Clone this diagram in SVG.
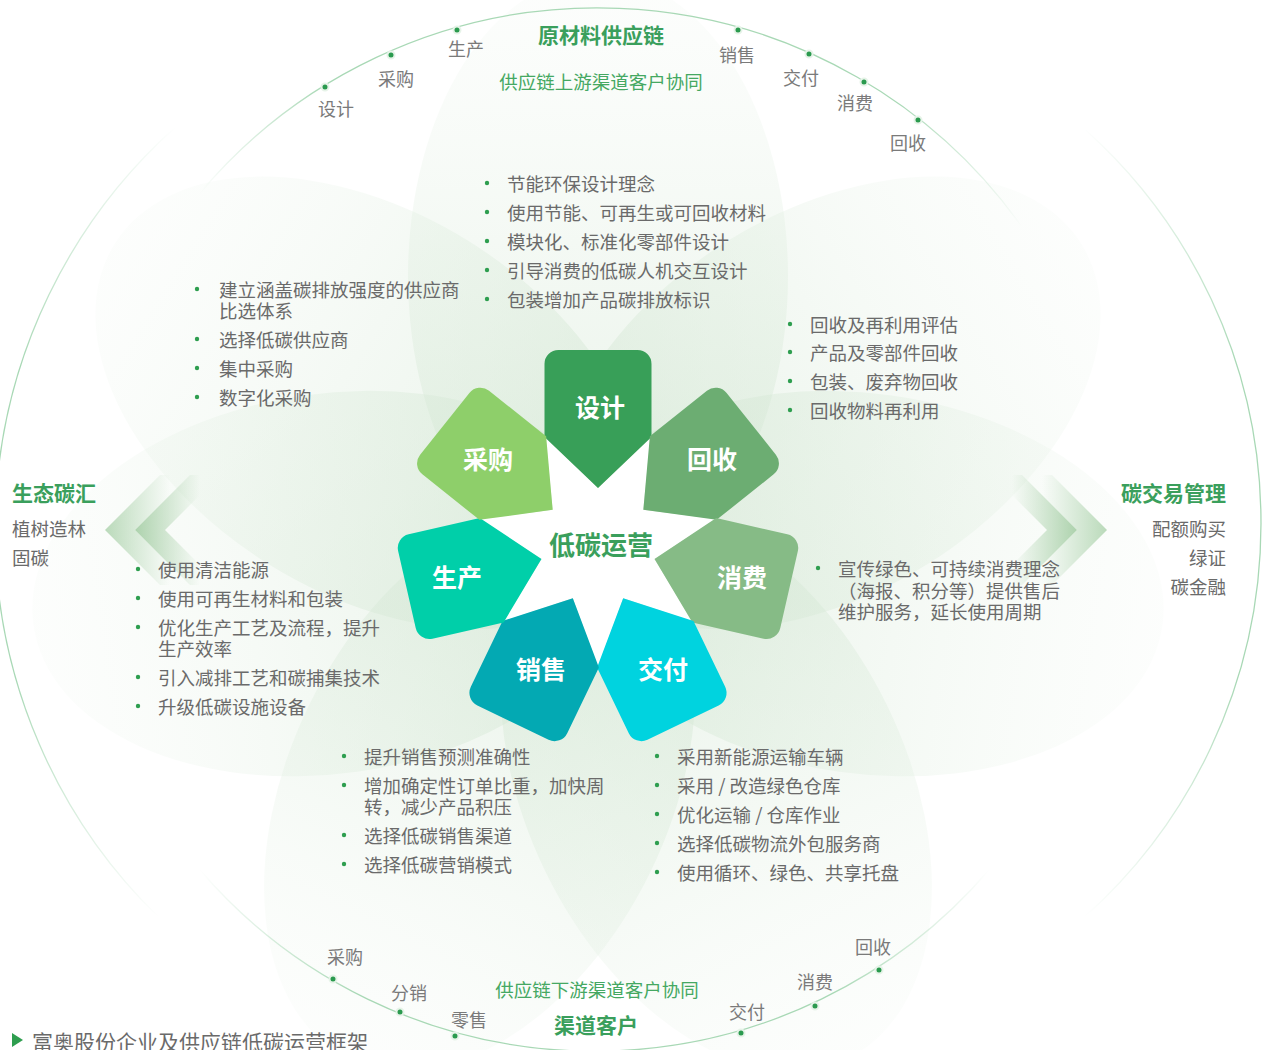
<svg xmlns="http://www.w3.org/2000/svg" width="1262" height="1050" viewBox="0 0 1262 1050">
<defs>
<style>
text{font-family:"Noto Sans CJK SC","Noto Sans",sans-serif;dominant-baseline:central}
.li{font-size:18.5px;fill:#6a6a6a}
.al{font-size:18px;fill:#7a7a7a;text-anchor:middle}
.ttl{font-size:21px;font-weight:bold;fill:#3a9f5c}
.sub{font-size:18.5px;fill:#45a862;text-anchor:middle}
.side{font-size:18.5px;fill:#6a6a6a}
.pl{font-size:25px;font-weight:bold;fill:#ffffff;text-anchor:middle}
.bd{fill:#2e9e4f}
.dot{fill:#2a9a4e;stroke:#e6f3e8;stroke-width:2}
.bg{fill:url(#bgp)}
</style>
<linearGradient id="bgp" x1="0" y1="1" x2="0" y2="0">
<stop offset="0" stop-color="#cfe4cf" stop-opacity="0.55"/>
<stop offset="0.55" stop-color="#dcecdc" stop-opacity="0.32"/>
<stop offset="1" stop-color="#eef6ee" stop-opacity="0.15"/>
</linearGradient>
<linearGradient id="arcTop" gradientUnits="userSpaceOnUse" x1="200" y1="0" x2="1022" y2="0">
<stop offset="0" stop-color="#a8d8b5" stop-opacity="0"/>
<stop offset="0.15" stop-color="#a8d8b5" stop-opacity="1"/>
<stop offset="0.85" stop-color="#a8d8b5" stop-opacity="1"/>
<stop offset="1" stop-color="#a8d8b5" stop-opacity="0"/>
</linearGradient>
<linearGradient id="arcBot" gradientUnits="userSpaceOnUse" x1="200" y1="0" x2="989" y2="0">
<stop offset="0" stop-color="#a8d8b5" stop-opacity="0"/>
<stop offset="0.2" stop-color="#a8d8b5" stop-opacity="1"/>
<stop offset="0.8" stop-color="#a8d8b5" stop-opacity="1"/>
<stop offset="1" stop-color="#a8d8b5" stop-opacity="0"/>
</linearGradient>
<linearGradient id="arcV" gradientUnits="userSpaceOnUse" x1="0" y1="127" x2="0" y2="917">
<stop offset="0" stop-color="#a8d8b5" stop-opacity="0"/>
<stop offset="0.3" stop-color="#a8d8b5" stop-opacity="1"/>
<stop offset="0.7" stop-color="#a8d8b5" stop-opacity="1"/>
<stop offset="1" stop-color="#a8d8b5" stop-opacity="0"/>
</linearGradient>
<linearGradient id="chL1" gradientUnits="userSpaceOnUse" x1="105" y1="0" x2="170" y2="0">
<stop offset="0" stop-color="#b3d6b3" stop-opacity="0.9"/>
<stop offset="1" stop-color="#b3d6b3" stop-opacity="0"/>
</linearGradient>
<linearGradient id="chL2" gradientUnits="userSpaceOnUse" x1="135" y1="0" x2="200" y2="0">
<stop offset="0" stop-color="#a9d0a9" stop-opacity="0.95"/>
<stop offset="1" stop-color="#a9d0a9" stop-opacity="0"/>
</linearGradient>
<linearGradient id="chR1" gradientUnits="userSpaceOnUse" x1="1107" y1="0" x2="1042" y2="0">
<stop offset="0" stop-color="#b3d6b3" stop-opacity="0.9"/>
<stop offset="1" stop-color="#b3d6b3" stop-opacity="0"/>
</linearGradient>
<linearGradient id="chR2" gradientUnits="userSpaceOnUse" x1="1077" y1="0" x2="1012" y2="0">
<stop offset="0" stop-color="#a9d0a9" stop-opacity="0.95"/>
<stop offset="1" stop-color="#a9d0a9" stop-opacity="0"/>
</linearGradient>
<path id="petal" d="M-53.5,-109 L-53.5,-182 A14,14 0 0 1 -39.5,-196 L39.5,-196 A14,14 0 0 1 53.5,-182 L53.5,-109 L0,-58 Z"/>
</defs>

<rect width="1262" height="1050" fill="#ffffff"/>

<g id="background">
<ellipse class="bg" cx="0" cy="-270" rx="190" ry="300" transform="translate(598 546) rotate(0)"/>
<ellipse class="bg" cx="0" cy="-270" rx="190" ry="300" transform="translate(598 546) rotate(58)"/>
<ellipse class="bg" cx="0" cy="-270" rx="190" ry="300" transform="translate(598 546) rotate(98)"/>
<ellipse class="bg" cx="0" cy="-270" rx="190" ry="300" transform="translate(598 546) rotate(154)"/>
<ellipse class="bg" cx="0" cy="-270" rx="190" ry="300" transform="translate(598 546) rotate(206)"/>
<ellipse class="bg" cx="0" cy="-270" rx="190" ry="300" transform="translate(598 546) rotate(262)"/>
<ellipse class="bg" cx="0" cy="-270" rx="190" ry="300" transform="translate(598 546) rotate(302)"/>
<path d="M105,530 L160,475 L190,475 L135,530 L190,585 L160,585 Z" fill="url(#chL1)"/>
<path d="M135,530 L190,475 L220,475 L165,530 L220,585 L190,585 Z" fill="url(#chL2)"/>
<path d="M1107,530 L1052,475 L1022,475 L1077,530 L1022,585 L1052,585 Z" fill="url(#chR1)"/>
<path d="M1077,530 L1022,475 L992,475 L1047,530 L992,585 L1022,585 Z" fill="url(#chR2)"/>
</g>

<g id="connectors" fill="none" stroke-width="1.3">
<path d="M200,193 A520,520 0 0 1 1022,227" stroke="url(#arcTop)"/>
<path d="M200,870 A520,520 0 0 0 989,870" stroke="url(#arcBot)"/>
<path d="M175.6,127 A540,540 0 0 0 158.4,917" stroke="url(#arcV)"/>
<path d="M1085.6,130 A528,528 0 0 1 1084.5,917" stroke="url(#arcV)"/>
</g>

<g id="upstream">
<text class="ttl" x="601" y="34" text-anchor="middle">原材料供应链</text>
<text class="sub" x="601" y="81">供应链上游渠道客户协同</text>
<circle class="dot" cx="325" cy="87" r="3.5"/>
<circle class="dot" cx="391" cy="55" r="3.5"/>
<circle class="dot" cx="457" cy="30" r="3.5"/>
<circle class="dot" cx="738" cy="30" r="3.5"/>
<circle class="dot" cx="809" cy="54" r="3.5"/>
<circle class="dot" cx="864" cy="82" r="3.5"/>
<circle class="dot" cx="918" cy="120" r="3.5"/>
<text class="al" x="336" y="108">设计</text>
<text class="al" x="396" y="78">采购</text>
<text class="al" x="466" y="48">生产</text>
<text class="al" x="737" y="54">销售</text>
<text class="al" x="801" y="77">交付</text>
<text class="al" x="855" y="102">消费</text>
<text class="al" x="908" y="142">回收</text>
</g>

<g id="downstream">
<text class="sub" x="597" y="989">供应链下游渠道客户协同</text>
<text class="ttl" x="596" y="1024" text-anchor="middle">渠道客户</text>
<circle class="dot" cx="333" cy="979" r="3.5"/>
<circle class="dot" cx="400" cy="1012" r="3.5"/>
<circle class="dot" cx="455" cy="1036" r="3.5"/>
<circle class="dot" cx="741" cy="1033" r="3.5"/>
<circle class="dot" cx="815" cy="1006" r="3.5"/>
<circle class="dot" cx="879" cy="970" r="3.5"/>
<text class="al" x="345" y="956">采购</text>
<text class="al" x="409" y="992">分销</text>
<text class="al" x="469" y="1019">零售</text>
<text class="al" x="747" y="1011">交付</text>
<text class="al" x="815" y="981">消费</text>
<text class="al" x="873" y="946">回收</text>
</g>

<g id="eco-sink">
<text class="ttl" x="12" y="492">生态碳汇</text>
<text class="side" x="12" y="528">植树造林</text>
<text class="side" x="12" y="557">固碳</text>
</g>

<g id="carbon-trading">
<text class="ttl" x="1226" y="492" text-anchor="end">碳交易管理</text>
<text class="side" x="1226" y="528" text-anchor="end">配额购买</text>
<text class="side" x="1226" y="557" text-anchor="end">绿证</text>
<text class="side" x="1226" y="586" text-anchor="end">碳金融</text>
</g>

<g id="center">
<polygon fill="#ffffff" points="598,488 650.5,437 643.3,509.8 716,519.1 654.5,558.9 692.6,621.4 623.2,598.3 598,667 572.8,598.3 503.4,621.4 541.5,558.9 480,519.1 552.7,509.8 545.5,437"/>
<text x="601" y="543" text-anchor="middle" style="font-size:26px;font-weight:bold;fill:#3a9f5c">低碳运营</text>
</g>

<g id="petal-design">
<use href="#petal" transform="translate(598 546) rotate(0)" fill="#389f58"/>
<text class="pl" x="600" y="406">设计</text>
</g>
<g id="petal-recycle">
<use href="#petal" transform="translate(598 546) rotate(51.4286)" fill="#6cad72"/>
<text class="pl" x="712" y="458">回收</text>
</g>
<g id="petal-consume">
<use href="#petal" transform="translate(598 546) rotate(102.857)" fill="#86bb86"/>
<text class="pl" x="742" y="576">消费</text>
</g>
<g id="petal-deliver">
<use href="#petal" transform="translate(598 546) rotate(154.286)" fill="#00d3df"/>
<text class="pl" x="663" y="668">交付</text>
</g>
<g id="petal-sales">
<use href="#petal" transform="translate(598 546) rotate(205.714)" fill="#03a9b3"/>
<text class="pl" x="541" y="668">销售</text>
</g>
<g id="petal-produce">
<use href="#petal" transform="translate(598 546) rotate(257.143)" fill="#00cfa9"/>
<text class="pl" x="457" y="576">生产</text>
</g>
<g id="petal-purchase">
<use href="#petal" transform="translate(598 546) rotate(308.571)" fill="#8ecf6a"/>
<text class="pl" x="488" y="458">采购</text>
</g>

<g id="list-design">
<circle class="bd" cx="487" cy="183" r="2.2"/><text class="li" x="507" y="183">节能环保设计理念</text>
<circle class="bd" cx="487" cy="212" r="2.2"/><text class="li" x="507" y="212">使用节能、可再生或可回收材料</text>
<circle class="bd" cx="487" cy="241" r="2.2"/><text class="li" x="507" y="241">模块化、标准化零部件设计</text>
<circle class="bd" cx="487" cy="270" r="2.2"/><text class="li" x="507" y="270">引导消费的低碳人机交互设计</text>
<circle class="bd" cx="487" cy="299" r="2.2"/><text class="li" x="507" y="299">包装增加产品碳排放标识</text>
</g>

<g id="list-purchase">
<circle class="bd" cx="197" cy="289" r="2.2"/><text class="li" x="219" y="289">建立涵盖碳排放强度的供应商</text>
<text class="li" x="219" y="310">比选体系</text>
<circle class="bd" cx="197" cy="339" r="2.2"/><text class="li" x="219" y="339">选择低碳供应商</text>
<circle class="bd" cx="197" cy="368" r="2.2"/><text class="li" x="219" y="368">集中采购</text>
<circle class="bd" cx="197" cy="397" r="2.2"/><text class="li" x="219" y="397">数字化采购</text>
</g>

<g id="list-recycle">
<circle class="bd" cx="790" cy="324" r="2.2"/><text class="li" x="810" y="324">回收及再利用评估</text>
<circle class="bd" cx="790" cy="352" r="2.2"/><text class="li" x="810" y="352">产品及零部件回收</text>
<circle class="bd" cx="790" cy="381" r="2.2"/><text class="li" x="810" y="381">包装、废弃物回收</text>
<circle class="bd" cx="790" cy="410" r="2.2"/><text class="li" x="810" y="410">回收物料再利用</text>
</g>

<g id="list-consume">
<circle class="bd" cx="818" cy="568" r="2.2"/><text class="li" x="838" y="568">宣传绿色、可持续消费理念</text>
<text class="li" x="838" y="590">（海报、积分等）提供售后</text>
<text class="li" x="838" y="611">维护服务，延长使用周期</text>
</g>

<g id="list-produce">
<circle class="bd" cx="138" cy="569" r="2.2"/><text class="li" x="158" y="569">使用清洁能源</text>
<circle class="bd" cx="138" cy="598" r="2.2"/><text class="li" x="158" y="598">使用可再生材料和包装</text>
<circle class="bd" cx="138" cy="627" r="2.2"/><text class="li" x="158" y="627">优化生产工艺及流程，提升</text>
<text class="li" x="158" y="648">生产效率</text>
<circle class="bd" cx="138" cy="677" r="2.2"/><text class="li" x="158" y="677">引入减排工艺和碳捕集技术</text>
<circle class="bd" cx="138" cy="706" r="2.2"/><text class="li" x="158" y="706">升级低碳设施设备</text>
</g>

<g id="list-sales">
<circle class="bd" cx="344" cy="756" r="2.2"/><text class="li" x="364" y="756">提升销售预测准确性</text>
<circle class="bd" cx="344" cy="785" r="2.2"/><text class="li" x="364" y="785">增加确定性订单比重，加快周</text>
<text class="li" x="364" y="806">转，减少产品积压</text>
<circle class="bd" cx="344" cy="835" r="2.2"/><text class="li" x="364" y="835">选择低碳销售渠道</text>
<circle class="bd" cx="344" cy="864" r="2.2"/><text class="li" x="364" y="864">选择低碳营销模式</text>
</g>

<g id="list-deliver">
<circle class="bd" cx="657" cy="756" r="2.2"/><text class="li" x="677" y="756">采用新能源运输车辆</text>
<circle class="bd" cx="657" cy="785" r="2.2"/><text class="li" x="677" y="785">采用 / 改造绿色仓库</text>
<circle class="bd" cx="657" cy="814" r="2.2"/><text class="li" x="677" y="814">优化运输 / 仓库作业</text>
<circle class="bd" cx="657" cy="843" r="2.2"/><text class="li" x="677" y="843">选择低碳物流外包服务商</text>
<circle class="bd" cx="657" cy="872" r="2.2"/><text class="li" x="677" y="872">使用循环、绿色、共享托盘</text>
</g>

<g id="caption">
<polygon points="12,1033 23,1040 12,1047" fill="#2e9e4f"/>
<text x="32" y="1041" style="font-size:21px;fill:#6a6a6a">富奥股份企业及供应链低碳运营框架</text>
</g>
</svg>
